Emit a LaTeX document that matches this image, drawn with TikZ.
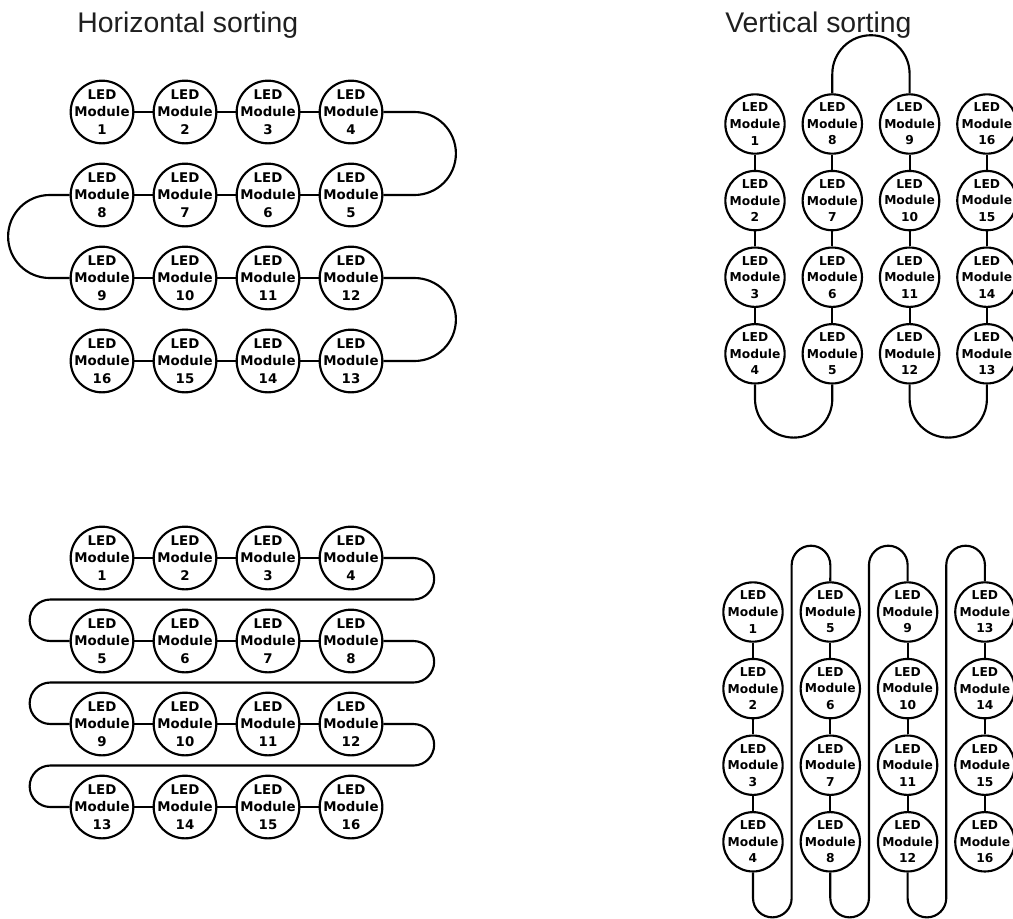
\documentclass[tikz,border=0pt]{standalone}
\usepackage{fontspec}
\setmainfont{Liberation Sans}
\newfontfamily\modfont{DejaVu Sans}
\tikzset{
    led/.style={circle,draw,line width=1.6pt,inner sep=-12pt,minimum size=47pt,
        align=center,font=\modfont\bfseries\fontsize{10}{13.2}\selectfont},
    ledsmall/.style={led,minimum size=44.5pt,font=\modfont\bfseries\fontsize{9.2}{12.4}\selectfont},
    wire/.style={line width=1.6pt},
    heading/.style={anchor=base west,inner sep=0pt,font=\fontsize{21.3}{25}\selectfont,text=black!88}
}
\begin{document}
\begin{tikzpicture}[x=0.75pt,y=0.75pt]
        \path[fill=white] (0,0) rectangle (1013,-918);
        \useasboundingbox (0,0) rectangle (1013,-918);
        \node[heading] (htitle) at (77,-32) {Horizontal sorting};
        \node[heading] (vtitle) at (725,-32) {Vertical sorting};

        \foreach \r in {0,...,3}
            \foreach \c in {0,...,3} {
                \pgfmathtruncatemacro{\n}{isodd(\r) ? 4*\r+4-\c : 4*\r+\c+1}
                \node[led] (a\n) at ({102+83*\c},{-112-83*\r}) {LED\\Module\\\n};
                \pgfmathtruncatemacro{\m}{isodd(\c) ? 4*\c+4-\r : 4*\c+\r+1}
                \node[ledsmall] (b\m) at ({755+77.3*\c},{-124-76.6*\r}) {LED\\Module\\\m};
                \pgfmathtruncatemacro{\k}{4*\r+\c+1}
                \node[led] (c\k) at ({102+83*\c},{-558-83*\r}) {LED\\Module\\\k};
                \pgfmathtruncatemacro{\k}{4*\c+\r+1}
                \node[ledsmall] (d\k) at ({753+77.3*\c},{-612-76.6*\r}) {LED\\Module\\\k};
            }

        \foreach \n in {1,2,3,5,6,7,9,10,11,13,14,15} {
            \pgfmathtruncatemacro{\m}{\n+1}
            \draw[wire] (a\n) -- (a\m);
            \draw[wire] (b\n) -- (b\m);
            \draw[wire] (c\n) -- (c\m);
            \draw[wire] (d\n) -- (d\m);
        }

        \foreach \n/\m in {4/5,12/13}
            \draw[wire] (a\n.east) -- ++(31,0) arc[start angle=90,end angle=-90,radius=41.5] -- (a\m.east);
        \draw[wire] (a8.west) -- ++(-20,0) arc[start angle=90,end angle=270,radius=41.5] -- (a9.west);

        \foreach \n/\m in {4/5,12/13}
            \draw[wire] (b\n.south) -- ++(0,-14.4) arc[start angle=180,end angle=360,radius=38.65] -- (b\m.south);
        \draw[wire] (b8.north) -- ++(0,19.4) arc[start angle=180,end angle=0,radius=38.65] -- (b9.north);

        \foreach \n/\m in {4/5,8/9,12/13}
            \draw[wire] (c\n.east) -- ++(30,0) arc[start angle=90,end angle=-90,radius=20.75]
                -- ++(-363,0) arc[start angle=90,end angle=270,radius=20.75] -- (c\m.west);

        \foreach \n/\m in {4/5,8/9,12/13}
            \draw[wire] (d\n.south) -- ++(0,-25.5) arc[start angle=180,end angle=360,radius=19.33]
                -- ++(0,333) arc[start angle=180,end angle=0,radius=19.33] -- (d\m.north);
\end{tikzpicture}
\end{document}
